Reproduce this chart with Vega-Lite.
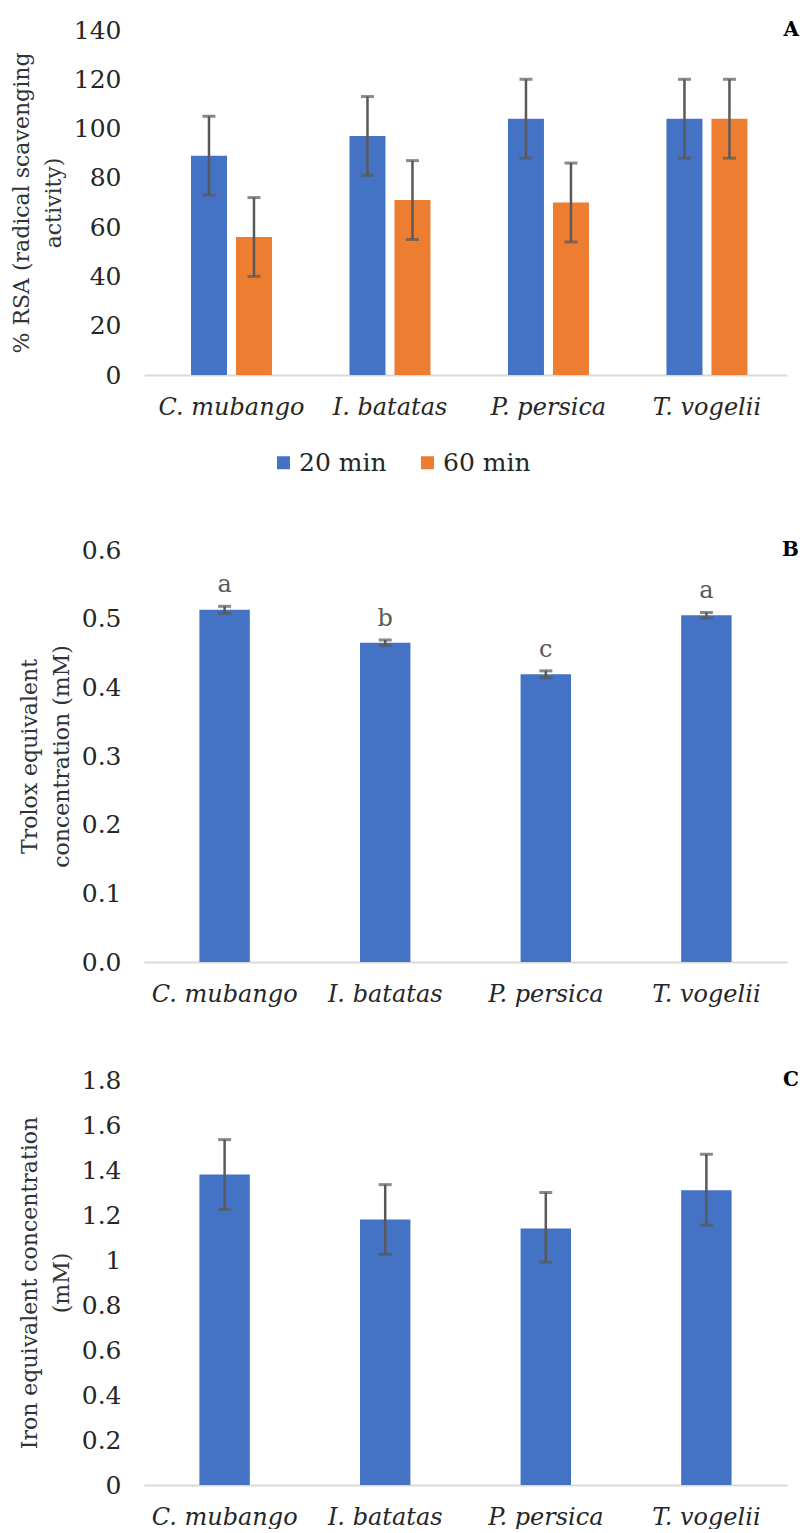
{
  "$schema": "https://vega.github.io/schema/vega-lite/v6.json",
  "background": "white",
  "padding": {"left": 10, "top": 18, "right": 4, "bottom": 0},
  "spacing": 62,
  "resolve": {"scale": {"color": "independent"}, "legend": {"color": "independent"}},
  "config": {
    "view": {"stroke": null},
    "font": "DejaVu Serif",
    "axis": {"grid": false, "ticks": false, "titleFontWeight": "normal", "titleColor": "#333333", "labelColor": "#262626"},
    "axisX": {"domainColor": "#d9d9d9", "domainWidth": 2, "labelAngle": 0, "labelFont": "DejaVu Serif", "labelFontStyle": "italic", "labelFontSize": 24, "labelPadding": 20, "title": null},
    "axisY": {"domain": false, "labelFont": "DejaVu Serif", "labelFontSize": 25, "labelPadding": 23, "titleFont": "DejaVu Serif", "titleFontSize": 22, "titleLineHeight": 32, "titlePadding": 8},
    "title": {"font": "DejaVu Serif", "fontSize": 20, "fontWeight": "bold", "anchor": "end", "color": "#000000"}
  },
  "datasets": {
    "rsa": [
      {"species": "C. mubango", "time": "20 min", "value": 89, "lo": 73, "hi": 105},
      {"species": "C. mubango", "time": "60 min", "value": 56, "lo": 40, "hi": 72},
      {"species": "I. batatas", "time": "20 min", "value": 97, "lo": 81, "hi": 113},
      {"species": "I. batatas", "time": "60 min", "value": 71, "lo": 55, "hi": 87},
      {"species": "P. persica", "time": "20 min", "value": 104, "lo": 88, "hi": 120},
      {"species": "P. persica", "time": "60 min", "value": 70, "lo": 54, "hi": 86},
      {"species": "T. vogelii", "time": "20 min", "value": 104, "lo": 88, "hi": 120},
      {"species": "T. vogelii", "time": "60 min", "value": 104, "lo": 88, "hi": 120}
    ],
    "trolox": [
      {"species": "C. mubango", "value": 0.513, "lo": 0.508, "hi": 0.518, "letter": "a"},
      {"species": "I. batatas", "value": 0.465, "lo": 0.461, "hi": 0.469, "letter": "b"},
      {"species": "P. persica", "value": 0.419, "lo": 0.414, "hi": 0.424, "letter": "c"},
      {"species": "T. vogelii", "value": 0.505, "lo": 0.501, "hi": 0.509, "letter": "a"}
    ],
    "iron": [
      {"species": "C. mubango", "value": 1.38, "lo": 1.225, "hi": 1.535},
      {"species": "I. batatas", "value": 1.18, "lo": 1.025, "hi": 1.335},
      {"species": "P. persica", "value": 1.14, "lo": 0.99, "hi": 1.3},
      {"species": "T. vogelii", "value": 1.31, "lo": 1.155, "hi": 1.47}
    ]
  },
  "vconcat": [
    {
      "width": 643,
      "height": 345,
      "data": {"name": "rsa"},
      "title": {"text": "A", "offset": -22, "dx": 12},
      "encoding": {
        "x": {"field": "species", "type": "nominal", "sort": null, "scale": {"paddingInner": 0.489, "paddingOuter": 0.273, "align": 0.543}},
        "xOffset": {"field": "time", "type": "nominal", "sort": null, "scale": {"paddingInner": 0.2, "paddingOuter": 0}}
      },
      "layer": [
        {
          "mark": {"type": "bar"},
          "encoding": {
            "y": {"field": "value", "type": "quantitative", "scale": {"domain": [0, 140], "nice": false}, "axis": {"values": [0, 20, 40, 60, 80, 100, 120, 140], "title": ["% RSA (radical scavenging", "activity)"]}},
            "color": {"field": "time", "type": "nominal", "scale": {"domain": ["20 min", "60 min"], "range": ["#4472C4", "#ED7D31"]}, "legend": {"orient": "none", "legendX": 127, "legendY": 420, "title": null, "direction": "horizontal", "symbolType": "square", "symbolSize": 169, "symbolStrokeWidth": 0, "labelFont": "DejaVu Serif", "labelFontSize": 25, "labelColor": "#262626", "labelOffset": 3, "columnPadding": 28, "symbolOpacity": 1}}
          }
        },
        {
          "mark": {"type": "rule", "color": "#595959", "strokeWidth": 2.5},
          "encoding": {"y": {"field": "lo", "type": "quantitative"}, "y2": {"field": "hi"}}
        },
        {
          "mark": {"type": "tick", "color": "#595959", "thickness": 3, "size": 13, "orient": "horizontal"},
          "encoding": {"y": {"field": "lo", "type": "quantitative"}}
        },
        {
          "mark": {"type": "tick", "color": "#595959", "thickness": 3, "size": 13, "orient": "horizontal"},
          "encoding": {"y": {"field": "hi", "type": "quantitative"}}
        }
      ]
    },
    {
      "width": 643,
      "height": 412,
      "data": {"name": "trolox"},
      "title": {"text": "B", "offset": -22, "dx": 12},
      "encoding": {
        "x": {"field": "species", "type": "nominal", "sort": null, "scale": {"paddingInner": 0.686, "paddingOuter": 0.345}}
      },
      "layer": [
        {
          "mark": {"type": "bar", "color": "#4472C4"},
          "encoding": {
            "y": {"field": "value", "type": "quantitative", "scale": {"domain": [0, 0.6], "nice": false}, "axis": {"values": [0, 0.1, 0.2, 0.3, 0.4, 0.5, 0.6], "format": ".1f", "title": ["Trolox equivalent", "concentration (mM)"]}}
          }
        },
        {
          "mark": {"type": "rule", "color": "#595959", "strokeWidth": 2.5},
          "encoding": {"y": {"field": "lo", "type": "quantitative"}, "y2": {"field": "hi"}}
        },
        {
          "mark": {"type": "tick", "color": "#595959", "thickness": 3, "size": 13, "orient": "horizontal"},
          "encoding": {"y": {"field": "lo", "type": "quantitative"}}
        },
        {
          "mark": {"type": "tick", "color": "#595959", "thickness": 3, "size": 13, "orient": "horizontal"},
          "encoding": {"y": {"field": "hi", "type": "quantitative"}}
        },
        {
          "mark": {"type": "text", "color": "#595959", "font": "DejaVu Serif", "fontSize": 24, "baseline": "alphabetic", "dy": -14},
          "encoding": {"y": {"field": "hi", "type": "quantitative"}, "text": {"field": "letter"}}
        }
      ]
    },
    {
      "width": 643,
      "height": 405,
      "data": {"name": "iron"},
      "title": {"text": "C", "offset": -22, "dx": 12},
      "encoding": {
        "x": {"field": "species", "type": "nominal", "sort": null, "scale": {"paddingInner": 0.686, "paddingOuter": 0.345}}
      },
      "layer": [
        {
          "mark": {"type": "bar", "color": "#4472C4"},
          "encoding": {
            "y": {"field": "value", "type": "quantitative", "scale": {"domain": [0, 1.8], "nice": false}, "axis": {"values": [0, 0.2, 0.4, 0.6, 0.8, 1, 1.2, 1.4, 1.6, 1.8], "format": "~g", "title": ["Iron equivalent concentration", "(mM)"]}}
          }
        },
        {
          "mark": {"type": "rule", "color": "#595959", "strokeWidth": 2.5},
          "encoding": {"y": {"field": "lo", "type": "quantitative"}, "y2": {"field": "hi"}}
        },
        {
          "mark": {"type": "tick", "color": "#595959", "thickness": 3, "size": 13, "orient": "horizontal"},
          "encoding": {"y": {"field": "lo", "type": "quantitative"}}
        },
        {
          "mark": {"type": "tick", "color": "#595959", "thickness": 3, "size": 13, "orient": "horizontal"},
          "encoding": {"y": {"field": "hi", "type": "quantitative"}}
        }
      ]
    }
  ]
}
